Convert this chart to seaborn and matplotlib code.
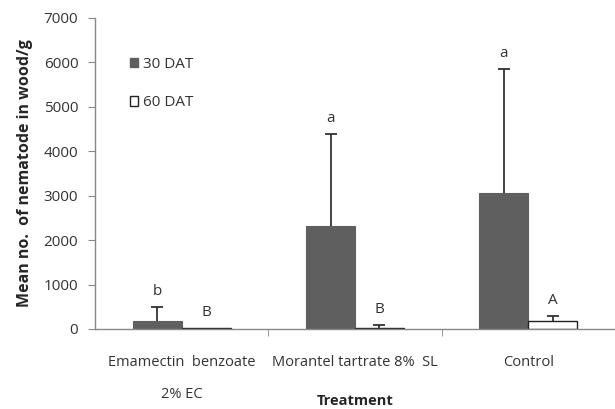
"""Nematode counts in wood after trunk injection, 30 vs 60 DAT."""
import numpy as np
import pandas as pd
import seaborn as sns
import matplotlib.pyplot as plt
from matplotlib.patches import Patch

treatments = ["Emamectin  benzoate\n2% EC", "Morantel tartrate 8%  SL", "Control"]
dat_30 = [180, 2320, 3070]
dat_60 = [20, 30, 180]
err_30 = [310, 2060, 2780]
err_60 = [0, 50, 105]
letters_30 = ["b", "a", "a"]
letters_60 = ["B", "B", "A"]

data = pd.DataFrame({
    "Treatment": treatments * 2,
    "Mean": dat_30 + dat_60,
    "Time": ["30 DAT"] * 3 + ["60 DAT"] * 3,
})

sns.set_style("white")
plt.rcParams['font.family'] = ['Open Sans', 'DejaVu Sans']

fig = plt.figure(figsize=(6.15, 4.09), dpi=100)
ax = fig.add_axes([95 / 615, 1 - 329 / 409, 520 / 615, 311 / 409])

sns.barplot(data=data, x="Treatment", y="Mean", hue="Time", ax=ax,
            palette={"30 DAT": "#5f5f5f", "60 DAT": "white"},
            width=0.565, gap=0, errorbar=None, legend=False, saturation=1)

# bar edges
for bar in ax.containers[0]:
    bar.set_edgecolor("#5f5f5f")
    bar.set_linewidth(0.8)
for bar in ax.containers[1]:
    bar.set_edgecolor("#222222")
    bar.set_linewidth(1.0)

# one-sided error bars and letters
for cont, means, errs, letters in [(ax.containers[0], dat_30, err_30, letters_30),
                                   (ax.containers[1], dat_60, err_60, letters_60)]:
    for bar, m, e, lt in zip(cont, means, errs, letters):
        xc = bar.get_x() + bar.get_width() / 2
        if e > 0:
            eb = ax.errorbar(xc, m, yerr=[[0], [e]], fmt="none", ecolor="#333333",
                             elinewidth=1.3, capsize=4, capthick=1.3)
            eb[1][0].set_visible(False)  # no cap at the bar top
        ax.annotate(lt, (xc, m + e), xytext=(0, 6), textcoords="offset points",
                    ha="center", va="bottom", fontsize=11, color="#333333")

ax.set_ylim(0, 7000)
ax.set_xlim(-0.5, 2.5)
ax.set_yticks(np.arange(0, 7001, 1000))

# Excel style: tick marks between categories
ax.set_xticks([0.5, 1.5, 2.5], minor=True)
ax.tick_params(axis="x", which="major", length=0, pad=19, labelsize=10.5, labelcolor="#333333")
ax.tick_params(axis="x", which="minor", length=5, color="#888888", direction="out", bottom=True)
ax.tick_params(axis="y", length=5, color="#888888", direction="out", left=True,
               pad=7, labelsize=11, labelcolor="#333333")
for lbl in ax.get_xticklabels():
    lbl.set_linespacing(2.5)
    lbl.set_va("top")

sns.despine(ax=ax)
for side in ["left", "bottom"]:
    ax.spines[side].set_color("#888888")
    ax.spines[side].set_linewidth(1)

ax.set_xlabel("Treatment", fontsize=10.5, fontweight="bold")
ax.xaxis.set_label_coords(0.5, -0.21)
ax.set_ylabel("Mean no.  of nematode in wood/g", fontsize=11.5, fontweight="bold")
ax.yaxis.set_label_coords(-0.12, 0.5)

handles = [Patch(facecolor="#5f5f5f", edgecolor="#5f5f5f", label="30 DAT"),
           Patch(facecolor="white", edgecolor="#222222", label="60 DAT")]
ax.legend(handles=handles, loc="upper left", bbox_to_anchor=(0.04, 0.92), frameon=False,
          handlelength=0.55, handleheight=0.55, handletextpad=0.35, labelspacing=1.55,
          fontsize=11, labelcolor="#333333")

plt.savefig("out.png", dpi=100)
